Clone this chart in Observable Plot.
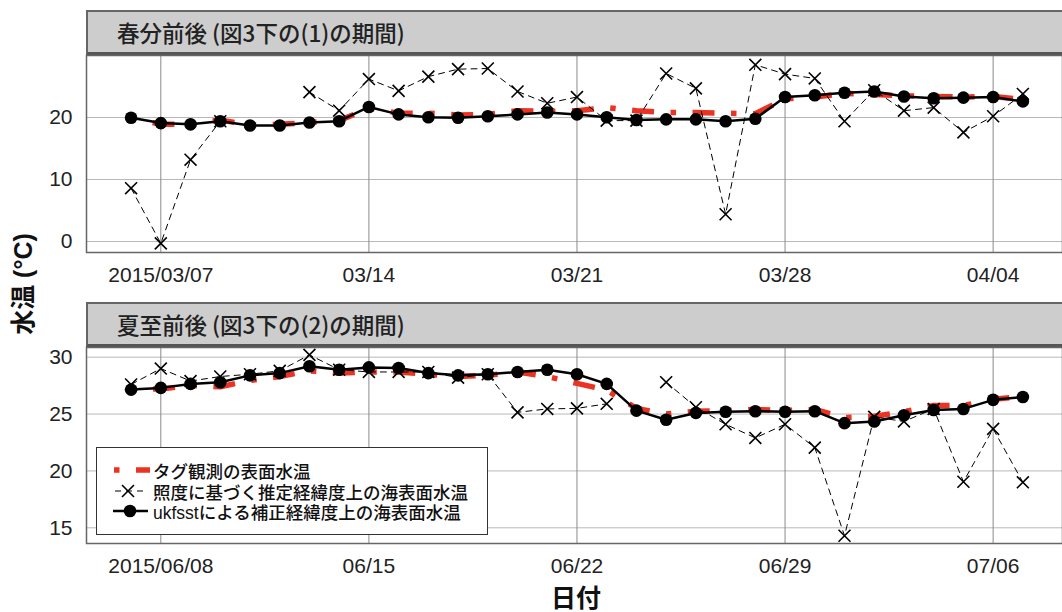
<!DOCTYPE html>
<html><head><meta charset="utf-8">
<script src="https://cdn.jsdelivr.net/npm/d3@7"></script>
<script src="https://cdn.jsdelivr.net/npm/@observablehq/plot@0.6"></script>
<style>
body{margin:0;background:#fff;}
#wrap{position:relative;width:1062px;height:612px;overflow:hidden;background:#fff;font-family:"Liberation Sans",Arial,"Noto Sans CJK JP",sans-serif;}
.plot{position:absolute;left:0;}
.strip{position:absolute;left:86px;width:976px;height:45px;box-sizing:border-box;background:#cdcdcd;border-top:2px solid #666;border-bottom:3px solid #555;border-left:2px solid #666;font-family:"Noto Sans CJK JP",sans-serif;font-size:22.5px;font-weight:500;color:#222;padding-left:29px;display:flex;align-items:center;white-space:nowrap;}
.ytitle{position:absolute;left:23px;top:284px;line-height:1;transform:translate(-50%,-50%) rotate(-90deg);font-family:"Liberation Sans","Noto Sans CJK JP",sans-serif;font-size:25px;font-weight:bold;color:#111;white-space:nowrap;}
.xtitle{position:absolute;left:576px;top:596px;line-height:1;transform:translate(-50%,-50%);font-family:"Noto Sans CJK JP",sans-serif;font-size:25px;font-weight:bold;color:#111;white-space:nowrap;}
.legend{position:absolute;left:96px;top:447px;width:392px;height:88px;box-sizing:border-box;border:1.5px solid #333;background:#fff;}
.legend svg{position:absolute;left:-1.5px;top:-1.5px;}
.lt{position:absolute;left:56px;font-family:"Liberation Sans","Noto Sans CJK JP",sans-serif;font-size:17.5px;font-weight:500;color:#111;white-space:nowrap;transform:translateY(-50%);}
</style></head>
<body><div id="wrap">
<div class="strip" style="top:10px">春分前後 (図3下の(1)の期間)</div>
<div class="strip" style="top:302px">夏至前後 (図3下の(2)の期間)</div>
<div id="p1" class="plot" style="top:0px"></div>
<div id="p2" class="plot" style="top:290px"></div>
<div class="ytitle">水温 (°C)</div>
<div class="xtitle">日付</div>
<div class="legend">
<svg width="392" height="88">
<line x1="18" x2="54" y1="23" y2="23" stroke="#ea3323" stroke-width="5.5" stroke-dasharray="5.5,16.5,22,16.5"/>
<line x1="17" x2="47" y1="44" y2="44" stroke="#000" stroke-width="1" stroke-dasharray="6,5" stroke-dashoffset="-2"/>
<path d="M26,38L38,50M26,50L38,38" stroke="#000" stroke-width="1.6" fill="none"/>
<line x1="17" x2="52" y1="64" y2="64" stroke="#000" stroke-width="2.5"/>
<circle cx="34" cy="64" r="6.3" fill="#000"/>
</svg>
<div class="lt" style="top:21.5px">タグ観測の表面水温</div>
<div class="lt" style="top:42.5px">照度に基づく推定経緯度上の海表面水温</div>
<div class="lt" style="top:62.5px">ukfsstによる補正経緯度上の海表面水温</div>
</div>
</div>
<script>
// ---- data ----
const springDates = ["2015-03-06","2015-03-07","2015-03-08","2015-03-09","2015-03-10","2015-03-11","2015-03-12","2015-03-13","2015-03-14","2015-03-15","2015-03-16","2015-03-17","2015-03-18","2015-03-19","2015-03-20","2015-03-21","2015-03-22","2015-03-23","2015-03-24","2015-03-25","2015-03-26","2015-03-27","2015-03-28","2015-03-29","2015-03-30","2015-03-31","2015-04-01","2015-04-02","2015-04-03","2015-04-04","2015-04-05"];
const springTag = [19.9,18.9,18.9,19.6,18.8,18.9,19.2,19.5,21.5,20.7,20.7,20.4,20.5,21.1,21.0,21.1,21.6,21.1,20.8,20.8,20.7,20.6,23.0,23.3,23.9,23.7,23.5,23.4,23.3,23.4,22.9];
const springEst = [8.6,-0.3,13.2,19.4,null,null,24.1,21.1,26.2,24.3,26.6,27.8,27.9,24.2,22.3,23.3,19.5,19.5,27.1,24.7,4.4,28.5,27.0,26.3,19.4,24.4,21.1,21.6,17.6,20.2,23.8];
const springUkf = [19.95,19.1,18.9,19.4,18.7,18.7,19.2,19.4,21.7,20.5,20.05,19.95,20.2,20.5,20.8,20.5,20.05,19.6,19.7,19.7,19.4,19.8,23.3,23.6,24.0,24.2,23.4,23.1,23.2,23.3,22.6];

const summerDates = ["2015-06-07","2015-06-08","2015-06-09","2015-06-10","2015-06-11","2015-06-12","2015-06-13","2015-06-14","2015-06-15","2015-06-16","2015-06-17","2015-06-18","2015-06-19","2015-06-20","2015-06-21","2015-06-22","2015-06-23","2015-06-24","2015-06-25","2015-06-26","2015-06-27","2015-06-28","2015-06-29","2015-06-30","2015-07-01","2015-07-02","2015-07-03","2015-07-04","2015-07-05","2015-07-06","2015-07-07"];
const summerTag = [27.2,27.2,27.5,27.4,27.95,28.3,28.8,28.6,28.7,28.7,28.5,28.3,28.4,28.7,28.3,27.7,27.1,25.5,25.0,25.25,25.3,25.4,25.3,25.4,24.7,24.8,25.2,25.75,25.75,26.3,26.55];
const summerEst = [27.6,29.0,27.9,28.3,28.5,28.8,30.2,28.9,28.7,28.7,28.7,28.2,28.5,25.15,25.45,25.5,25.9,null,27.8,25.6,24.1,22.9,24.1,22.05,14.3,24.75,24.35,25.45,19.05,23.7,19.0];
const summerUkf = [27.15,27.3,27.65,27.8,28.4,28.6,29.2,28.9,29.1,29.05,28.6,28.4,28.5,28.7,28.9,28.5,27.65,25.3,24.5,25.1,25.2,25.25,25.2,25.25,24.2,24.35,24.9,25.35,25.45,26.25,26.5];

const springTicksX = ["2015-03-07","2015-03-14","2015-03-21","2015-03-28","2015-04-04"];
const summerTicksX = ["2015-06-08","2015-06-15","2015-06-22","2015-06-29","2015-07-06"];
const springTicksY = [0,10,20];
const summerTicksY = [15,20,25,30];

function rowsOf(dates, tag, est, ukf) {
  return dates.map((d, i) => ({date: new Date(d), tag: tag[i], est: est[i] == null ? NaN : est[i], ukf: ukf[i]}));
}

function panel(rows, ticksXs, ticksY, domainX, domainY, marginTop, marginBottom) {
  const ticksX = ticksXs.map(d => new Date(d));
  const first = ticksX[0].getTime();
  const fmtFull = d3.utcFormat("%Y/%m/%d"), fmtShort = d3.utcFormat("%m/%d");
  const fmt = d => d.getTime() === first ? fmtFull(d) : fmtShort(d);
  return Plot.plot({
    width: 1062, height: 290,
    marginLeft: 86, marginRight: 0, marginTop, marginBottom,
    style: {fontSize: "21px", fontFamily: "Liberation Sans, Arial, sans-serif", color: "#222", background: "transparent"},
    x: {type: "utc", domain: domainX.map(d => new Date(d))},
    y: {domain: domainY},
    marks: [
      Plot.gridY(ticksY, {stroke: "#b8b8b8", strokeOpacity: 1, strokeWidth: 1}),
      Plot.gridX(ticksX, {stroke: "#8a8a8a", strokeOpacity: 1, strokeWidth: 1}),
      Plot.line(rows, {x: "date", y: "tag", stroke: "#ea3323", strokeWidth: 5.5, strokeDasharray: "5.5,16.5,22,16.5", strokeLinecap: "butt"}),
      Plot.line(rows, {x: "date", y: "ukf", stroke: "#000", strokeWidth: 2.5}),
      Plot.dot(rows, {x: "date", y: "ukf", r: 6.3, fill: "#000"}),
      Plot.line(rows, {x: "date", y: "est", stroke: "#000", strokeWidth: 1, strokeDasharray: "6,5"}),
      Plot.dot(rows, {x: "date", y: "est", symbol: "times", r: 5.5, stroke: "#000", strokeWidth: 1.6}),
      Plot.frame({stroke: "#666", strokeWidth: 1.5}),
      Plot.axisX(ticksX, {tickSize: 0, tickPadding: 15, tickFormat: fmt, label: null}),
      Plot.axisY(ticksY, {tickSize: 0, tickPadding: 14, label: null})
    ]
  });
}

const springRows = rowsOf(springDates, springTag, springEst, springUkf);
const summerRows = rowsOf(summerDates, summerTag, summerEst, summerUkf);

document.getElementById("p1").appendChild(panel(springRows, springTicksX, springTicksY,
  ["2015-03-04T12:00:00Z", "2015-04-06T08:00:00Z"], [-1.77, 30.0], 55, 38));
document.getElementById("p2").appendChild(panel(summerRows, summerTicksX, summerTicksY,
  ["2015-06-05T12:00:00Z", "2015-07-08T08:00:00Z"], [13.62, 30.85], 57, 37));
</script>
</body></html>
